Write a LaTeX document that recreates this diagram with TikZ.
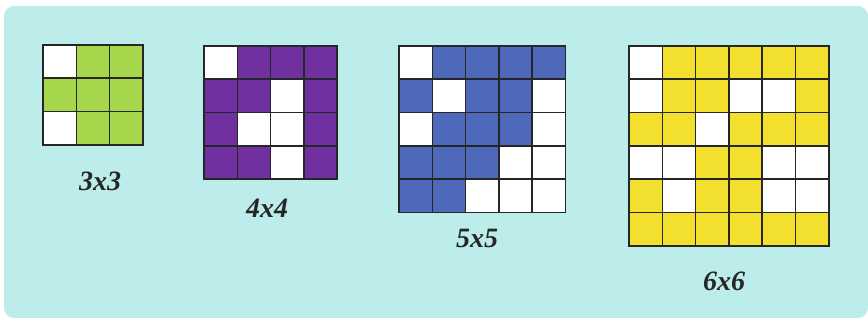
\documentclass[tikz,border=0pt]{standalone}
\usepackage{fontspec}
\setmainfont{Liberation Serif}
\definecolor{bgc}{HTML}{BDEDEA}
\definecolor{gc}{HTML}{A5D64B}
\definecolor{pc}{HTML}{7030A0}
\definecolor{bc}{HTML}{4E69B9}
\definecolor{yc}{HTML}{F2DF2E}
\def\cs{33.3}
\newcommand\drawgrid[5]{%
  \fill[#4] (#1,#2) rectangle ++(#3*\cs,#3*\cs);
  \foreach \c/\r in {#5} {\fill[white] (#1+\c*\cs,#2+\r*\cs) rectangle ++(\cs,\cs);}
  \foreach \i in {0,...,#3} {
    \draw[gridline] (#1+\i*\cs,#2) -- ++(0,#3*\cs);
    \draw[gridline] (#1,#2+\i*\cs) -- ++(#3*\cs,0);
  }
}
\tikzset{
  gridline/.style={draw=black!85, line width=1.6pt, line cap=rect},
  lbl/.style={font=\fontsize{28}{28}\selectfont\bfseries\itshape, text=black!85, inner sep=0pt}
}
\begin{document}
\begin{tikzpicture}[x=1pt,y=-1pt]
\useasboundingbox (0,0) rectangle (868,320);
\fill[white] (0,0) rectangle (868,320);
\fill[bgc, rounded corners=10pt] (4,6) rectangle (868,318);
\drawgrid{43}{45}{3}{gc}{0/0,0/2}
\drawgrid{204}{46}{4}{pc}{0/0,2/1,1/2,2/2,2/3}
\drawgrid{399}{46}{5}{bc}{0/0,1/1,4/1,0/2,4/2,3/3,4/3,2/4,3/4,4/4}
\drawgrid{629}{46}{6}{yc}{0/0,0/1,3/1,4/1,2/2,0/3,1/3,4/3,5/3,1/4,4/4,5/4}
\node[lbl] (l3) at (100,181) {3x3};
\node[lbl] (l4) at (267,208) {4x4};
\node[lbl] (l5) at (477,238) {5x5};
\node[lbl] (l6) at (724,281) {6x6};
\end{tikzpicture}
\end{document}
